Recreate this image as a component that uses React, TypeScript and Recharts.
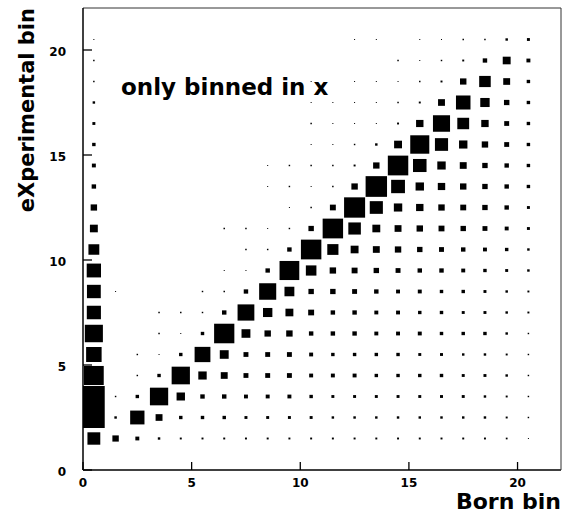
import React from 'react';
import { ScatterChart, Scatter, XAxis, YAxis, ReferenceArea } from 'recharts';

// Bin centres of the response matrix
const BORN_BINS = [0.5, 1.5, 2.5, 3.5, 4.5, 5.5, 6.5, 7.5, 8.5, 9.5, 10.5, 11.5, 12.5, 13.5, 14.5, 15.5, 16.5, 17.5, 18.5, 19.5, 20.5];
const EXP_BINS = [1.5, 2.5, 3.5, 4.5, 5.5, 6.5, 7.5, 8.5, 9.5, 10.5, 11.5, 12.5, 13.5, 14.5, 15.5, 16.5, 17.5, 18.5, 19.5, 20.5];

// Bin contents, one row per experimental bin (bottom to top), one entry per Born bin
const CONTENT: number[][] = [
  [13, 6.5, 4, 2.5, 2, 2, 2, 2, 2, 2, 2, 2, 2, 2, 2, 2, 2, 2, 2, 1.8, 1],
  [22, 2.5, 14.5, 7, 3.5, 3.5, 3.5, 3, 3, 3, 3, 2.5, 2.5, 2.5, 2.5, 2.5, 2.5, 2.5, 2.5, 2, 1.5],
  [22, 1.5, 3.5, 18.5, 8.5, 4.5, 4.5, 4, 4, 4, 3.5, 3, 3, 3, 3, 3, 3, 3, 2.5, 2, 1.5],
  [20, 0, 1.5, 3.5, 18.5, 8.5, 7, 5, 5, 5, 4, 4, 4, 3.5, 3.5, 3.5, 3.5, 3, 3, 2.5, 1.5],
  [15.7, 0, 1.5, 1, 3.5, 16, 9, 5, 5, 5, 4, 3.5, 3.5, 3.5, 3.5, 3, 3, 2.5, 2.5, 2, 1.5],
  [18.3, 0, 0, 1.5, 1, 3.5, 20.5, 9, 6.5, 6.5, 4.5, 4.5, 4.5, 4, 4, 4, 3.5, 3.5, 3.5, 2.5, 1.5],
  [14.3, 0, 0, 1.5, 1.5, 1.5, 4.5, 17, 9.5, 8, 6, 4.5, 4.5, 4, 4, 3.5, 3.5, 3, 3, 2.5, 2],
  [14, 1, 0, 0, 0, 1.5, 1.5, 4.5, 17.3, 10, 5.5, 5.5, 5, 4.5, 4, 4, 3.5, 3.5, 3, 2.5, 2],
  [14.5, 0, 0, 0, 0, 0, 1, 1, 4.5, 20, 10.7, 6.5, 6, 5.5, 5, 4.5, 4.5, 4, 3.5, 3, 2.5],
  [11, 0, 0, 0, 0, 0, 0, 1.5, 1.5, 4.5, 20.7, 11.3, 8, 7, 6.5, 5.5, 5, 4.5, 4, 3.5, 2.5],
  [8, 0, 0, 0, 0, 0, 1.5, 1.5, 1, 1.5, 5.5, 20.7, 12.7, 8, 7, 6.5, 6, 5.5, 5, 4, 3],
  [6.5, 0, 0, 0, 0, 0, 0, 0, 0, 1, 1.5, 6, 21.3, 13.3, 8.5, 7.5, 6.5, 6, 5.5, 4.5, 3],
  [4.5, 0, 0, 0, 0, 0, 0, 0, 1, 1.5, 1, 1.5, 6.5, 21.7, 14, 8.5, 7.5, 6.5, 5.5, 4.5, 3.5],
  [4, 0, 0, 0, 0, 0, 0, 0, 1, 1.5, 1.5, 1.5, 2, 6.5, 20.7, 13.7, 8.5, 7, 5.5, 4.5, 3.5],
  [3.5, 0, 0, 0, 0, 0, 0, 0, 0, 0, 1, 1, 1.5, 2.5, 8, 19.3, 13.3, 8.5, 6.5, 5, 3.5],
  [3, 0, 0, 0, 0, 0, 0, 0, 0, 0, 1.5, 1, 1, 1, 2, 7.5, 17.3, 12, 7.5, 5, 3.5],
  [2.5, 0, 0, 0, 0, 0, 0, 0, 0, 0, 1, 1, 1, 1, 1.5, 2, 7, 14.7, 9.5, 5.5, 3.5],
  [1.5, 0, 0, 0, 0, 0, 0, 0, 0, 0, 1, 0, 1, 1, 1, 1.5, 2, 6.5, 11.7, 7, 3.5],
  [1.5, 0, 0, 0, 0, 0, 0, 0, 0, 0, 0, 0, 0, 0, 1.5, 1, 1.5, 2, 4.5, 8, 4],
  [1, 0, 0, 0, 0, 0, 0, 0, 0, 0, 0, 0, 1, 1, 0, 1, 1, 1.5, 1.5, 2.5, 3],
];

const X_TICKS = [0, 5, 10, 15, 20];
const Y_TICKS = [0, 5, 10, 15, 20];
const AXIS_RANGE: [number, number] = [0, 22];
const BIN_WIDTH = 1;

const FONT = '"DejaVu Sans", "Liberation Sans", sans-serif';

type Cell = { x: number; y: number; z: number };

// Box option: each box side scales with the bin content relative to the maximum
const cells: Cell[] = [];
EXP_BINS.forEach((y, r) => {
  BORN_BINS.forEach((x, c) => {
    const z = CONTENT[r][c];
    if (z > 0) cells.push({ x, y, z });
  });
});
const zMax = Math.max(...cells.map((d) => d.z));

// Tick marks point into the frame, labels sit outside it
const X_TICK_LEN = 8;
const Y_TICK_LEN = 9;

const XTick = (props: any) => (
  <g>
    <path d={`M${props.x},${props.y}V${props.y - X_TICK_LEN}`} stroke="#000" strokeWidth={1.3} />
    <text x={props.x} y={props.y} dy={17} textAnchor="middle" fontFamily={FONT} fontWeight="bold" fontSize={12} fill="#000">
      {props.payload.value}
    </text>
  </g>
);

const YTick = (props: any) => (
  <g>
    <path d={`M${props.x},${props.y}H${props.x + Y_TICK_LEN}`} stroke="#000" strokeWidth={1.3} />
    <text x={props.x - 17} y={props.y} dy={5.5} textAnchor="end" fontFamily={FONT} fontWeight="bold" fontSize={12} fill="#000">
      {props.payload.value}
    </text>
  </g>
);

// Cell centres carry the data for the axes; the boxes themselves are ReferenceAreas
const NoMarker = () => <g />;

export default function App() {
  return (
    <div style={{ position: 'absolute', left: 0, top: 0, width: 562, height: 515, background: '#fff' }}>
      <ScatterChart width={562} height={515} margin={{ top: 0, right: 0, bottom: 0, left: 0 }}>
        <XAxis
          xAxisId="born"
          dataKey="x"
          type="number"
          orientation="bottom"
          domain={AXIS_RANGE}
          ticks={X_TICKS}
          allowDataOverflow
          height={45}
          tickSize={0}
          tickMargin={0}
          tick={XTick}
          tickLine={false}
          axisLine={{ stroke: '#000', strokeWidth: 1.5 }}
        />
        <XAxis
          xAxisId="frameTop"
          dataKey="x"
          type="number"
          orientation="top"
          domain={AXIS_RANGE}
          allowDataOverflow
          height={8}
          tick={false}
          tickLine={false}
          axisLine={{ stroke: '#333', strokeWidth: 1 }}
        />
        <YAxis
          yAxisId="exp"
          dataKey="y"
          type="number"
          orientation="left"
          domain={AXIS_RANGE}
          ticks={Y_TICKS}
          allowDataOverflow
          width={83}
          tickSize={0}
          tickMargin={0}
          tick={YTick}
          tickLine={false}
          axisLine={{ stroke: '#000', strokeWidth: 1.5 }}
        />
        <YAxis
          yAxisId="frameRight"
          dataKey="y"
          type="number"
          orientation="right"
          domain={AXIS_RANGE}
          allowDataOverflow
          width={1}
          tick={false}
          tickLine={false}
          axisLine={{ stroke: '#333', strokeWidth: 1 }}
        />
        <Scatter data={cells} xAxisId="born" yAxisId="exp" shape={<NoMarker />} isAnimationActive={false} />
        <Scatter data={cells} xAxisId="frameTop" yAxisId="frameRight" shape={<NoMarker />} isAnimationActive={false} />
        {cells.map((d, i) => {
          const h = (0.5 * BIN_WIDTH * d.z) / zMax;
          return (
            <ReferenceArea
              key={i}
              xAxisId="born"
              yAxisId="exp"
              x1={d.x - h}
              x2={d.x + h}
              y1={d.y - h}
              y2={d.y + h}
              fill="#000"
              fillOpacity={1}
              stroke="none"
              ifOverflow="visible"
            />
          );
        })}
        <text x={121} y={95} fontFamily={FONT} fontWeight="bold" fontSize={23} fill="#000">
          only binned in x
        </text>
        <text x={561} y={509} textAnchor="end" fontFamily={FONT} fontWeight="bold" fontSize={22} fill="#000">
          Born bin
        </text>
        <text
          x={0}
          y={0}
          transform="translate(34, 8) rotate(-90)"
          textAnchor="end"
          fontFamily={FONT}
          fontWeight="bold"
          fontSize={21}
          fill="#000"
        >
          eXperimental bin
        </text>
      </ScatterChart>
    </div>
  );
}
